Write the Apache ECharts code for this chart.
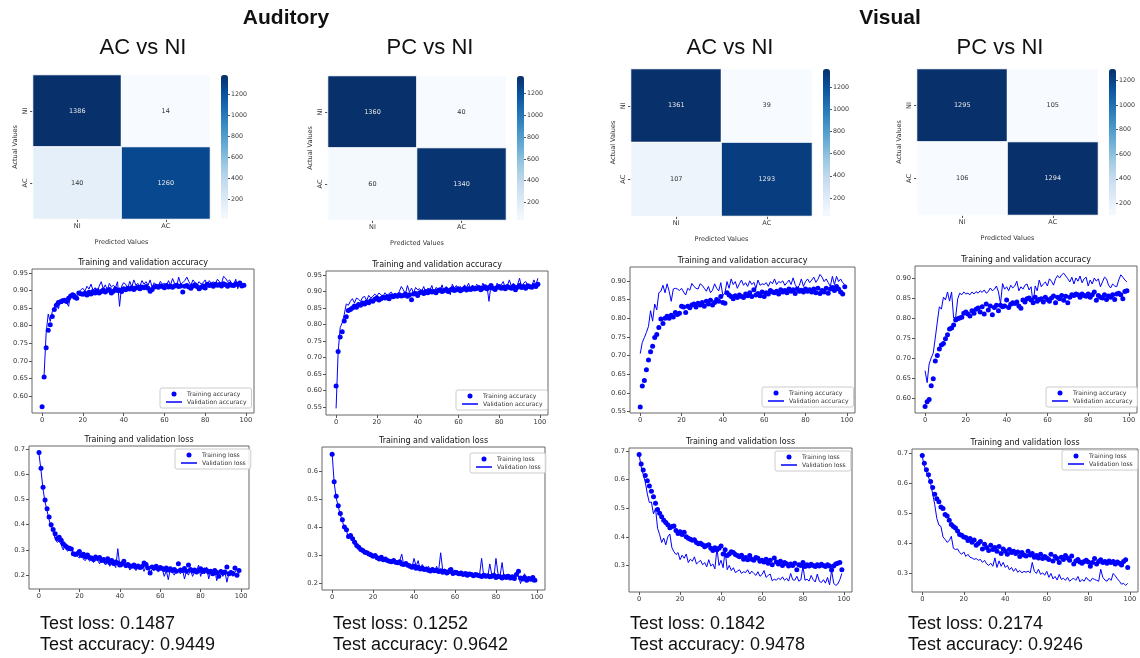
<!DOCTYPE html>
<html><head><meta charset="utf-8">
<script src="https://cdn.jsdelivr.net/npm/echarts@6/dist/echarts.min.js"></script>
<style>html,body{margin:0;padding:0;background:#fff}#c{width:1140px;height:658px}</style>
</head><body><div id="c"></div>
<script>
// ---------------- DATA ----------------
const groupTitles = ['Auditory', 'Visual'];
const panelTitles = ['AC vs NI', 'PC vs NI', 'AC vs NI', 'PC vs NI'];
const matrixLabels = ['NI', 'AC'];
const cmAudAC = [[1386, 14], [140, 1260]];
const cmAudPC = [[1360, 40], [60, 1340]];
const cmVisAC = [[1361, 39], [107, 1293]];
const cmVisPC = [[1295, 105], [106, 1294]];
const colorbarTicks = [200, 400, 600, 800, 1000, 1200];
const epochTicks = [0, 20, 40, 60, 80, 100];
const accTicks1 = [0.60, 0.65, 0.70, 0.75, 0.80, 0.85, 0.90, 0.95];
const lossTicks1 = [0.2, 0.3, 0.4, 0.5, 0.6, 0.7];
const accTicks2 = [0.55, 0.60, 0.65, 0.70, 0.75, 0.80, 0.85, 0.90, 0.95];
const lossTicks2 = [0.2, 0.3, 0.4, 0.5, 0.6];
const accTicks3 = [0.55, 0.60, 0.65, 0.70, 0.75, 0.80, 0.85, 0.90];
const lossTicks3 = [0.3, 0.4, 0.5, 0.6, 0.7];
const accTicks4 = [0.60, 0.65, 0.70, 0.75, 0.80, 0.85, 0.90];
const lossTicks4 = [0.3, 0.4, 0.5, 0.6, 0.7];
const testLoss = [0.1487, 0.1252, 0.1842, 0.2174];
const testAcc = [0.9449, 0.9642, 0.9478, 0.9246];

// Auditory AC vs NI
const trainAcc1 = [
0.570,0.654,0.737,0.787,0.803,0.826,0.846,0.858,0.866,0.868,
0.871,0.872,0.869,0.878,0.884,0.888,0.881,0.878,0.893,0.891,
0.889,0.892,0.887,0.895,0.890,0.897,0.893,0.899,0.893,0.897,
0.901,0.896,0.900,0.903,0.893,0.898,0.904,0.900,0.901,0.897,
0.905,0.902,0.906,0.904,0.908,0.903,0.907,0.909,0.905,0.910,
0.908,0.911,0.906,0.898,0.903,0.910,0.912,0.909,0.913,0.911,
0.908,0.914,0.910,0.912,0.909,0.913,0.915,0.911,0.913,0.896,
0.912,0.914,0.910,0.906,0.913,0.916,0.911,0.905,0.909,0.913,
0.907,0.918,0.914,0.916,0.912,0.918,0.915,0.917,0.913,0.919,
0.916,0.912,0.918,0.915,0.914,0.919,0.917,0.921,0.913,0.915];
const valAcc1 = [
0.650,0.662,0.780,0.833,0.812,0.840,0.852,0.866,0.848,0.872,
0.862,0.878,0.866,0.855,0.888,0.882,0.892,0.884,0.895,0.902,
0.906,0.898,0.912,0.904,0.918,0.900,0.908,0.894,0.912,0.925,
0.905,0.916,0.902,0.920,0.910,0.915,0.908,0.925,0.855,0.912,
0.922,0.918,0.905,0.926,0.910,0.930,0.915,0.920,0.912,0.928,
0.918,0.925,0.915,0.930,0.908,0.922,0.916,0.912,0.926,0.918,
0.920,0.912,0.928,0.915,0.934,0.920,0.910,0.938,0.918,0.922,
0.928,0.938,0.925,0.915,0.930,0.922,0.915,0.925,0.918,0.922,
0.930,0.915,0.928,0.920,0.925,0.918,0.932,0.925,0.920,0.940,
0.935,0.925,0.930,0.920,0.915,0.932,0.905,0.925,0.912,0.915];
const trainLoss1 = [
0.686,0.624,0.548,0.498,0.463,0.430,0.400,0.381,0.364,0.345,
0.350,0.338,0.324,0.316,0.310,0.307,0.304,0.285,0.282,0.286,
0.294,0.278,0.283,0.273,0.280,0.270,0.268,0.262,0.272,0.266,
0.270,0.258,0.262,0.255,0.265,0.250,0.258,0.246,0.252,0.248,
0.240,0.245,0.255,0.238,0.242,0.236,0.235,0.240,0.232,0.236,
0.230,0.234,0.248,0.242,0.228,0.208,0.232,0.228,0.235,0.225,
0.230,0.226,0.222,0.228,0.220,0.225,0.218,0.222,0.215,0.245,
0.220,0.218,0.226,0.215,0.240,0.222,0.216,0.220,0.212,0.218,
0.225,0.214,0.220,0.218,0.212,0.215,0.205,0.218,0.210,0.196,
0.214,0.208,0.212,0.232,0.205,0.210,0.206,0.228,0.200,0.218];
const valLoss1 = [
0.680,0.615,0.540,0.490,0.455,0.420,0.390,0.370,0.345,0.330,
0.335,0.320,0.300,0.318,0.295,0.300,0.298,0.290,0.280,0.275,
0.268,0.285,0.262,0.258,0.272,0.255,0.262,0.250,0.268,0.258,
0.245,0.262,0.250,0.240,0.255,0.235,0.248,0.242,0.230,0.305,
0.238,0.232,0.248,0.228,0.240,0.220,0.235,0.228,0.218,0.240,
0.225,0.232,0.215,0.238,0.228,0.210,0.222,0.218,0.228,0.212,
0.220,0.225,0.195,0.218,0.182,0.225,0.210,0.200,0.222,0.215,
0.205,0.225,0.185,0.215,0.200,0.222,0.195,0.212,0.218,0.240,
0.195,0.222,0.205,0.232,0.185,0.215,0.200,0.220,0.178,0.210,
0.222,0.195,0.215,0.172,0.208,0.218,0.195,0.212,0.225,0.205];

// Auditory PC vs NI
const trainAcc2 = [
0.613,0.718,0.762,0.778,0.810,0.823,0.842,0.845,0.850,0.856,
0.852,0.860,0.858,0.865,0.862,0.868,0.866,0.872,0.870,0.876,
0.880,0.874,0.878,0.882,0.880,0.884,0.878,0.886,0.884,0.888,
0.885,0.890,0.886,0.888,0.892,0.885,0.890,0.875,0.892,0.894,
0.888,0.896,0.898,0.894,0.900,0.896,0.902,0.898,0.900,0.896,
0.902,0.905,0.900,0.903,0.906,0.900,0.904,0.908,0.903,0.905,
0.908,0.902,0.906,0.910,0.904,0.908,0.906,0.911,0.907,0.909,
0.912,0.905,0.910,0.914,0.908,0.912,0.918,0.910,0.906,0.912,
0.915,0.910,0.913,0.908,0.915,0.912,0.910,0.916,0.905,0.913,
0.918,0.912,0.915,0.910,0.917,0.914,0.913,0.918,0.915,0.922];
const valAcc2 = [
0.545,0.715,0.790,0.805,0.830,0.862,0.858,0.870,0.878,0.865,
0.880,0.876,0.870,0.882,0.885,0.872,0.888,0.880,0.885,0.892,
0.886,0.895,0.890,0.884,0.896,0.888,0.893,0.898,0.890,0.895,
0.888,0.900,0.915,0.905,0.892,0.918,0.898,0.910,0.895,0.912,
0.905,0.908,0.900,0.915,0.895,0.910,0.905,0.918,0.892,0.912,
0.908,0.903,0.920,0.895,0.915,0.907,0.890,0.922,0.910,0.918,
0.905,0.915,0.900,0.920,0.912,0.925,0.905,0.918,0.910,0.922,
0.915,0.908,0.925,0.912,0.918,0.870,0.920,0.915,0.905,0.925,
0.912,0.920,0.930,0.910,0.918,0.935,0.915,0.925,0.908,0.920,
0.940,0.912,0.925,0.930,0.918,0.922,0.915,0.935,0.920,0.940];
const trainLoss2 = [
0.662,0.564,0.512,0.478,0.450,0.428,0.402,0.392,0.368,0.372,
0.360,0.348,0.336,0.330,0.322,0.318,0.312,0.310,0.306,0.302,
0.298,0.300,0.292,0.288,0.294,0.285,0.288,0.282,0.280,0.278,
0.282,0.276,0.274,0.278,0.270,0.268,0.272,0.265,0.262,0.258,
0.262,0.255,0.258,0.252,0.256,0.250,0.252,0.248,0.245,0.250,
0.246,0.248,0.243,0.246,0.240,0.244,0.238,0.242,0.250,0.236,
0.240,0.238,0.235,0.238,0.232,0.236,0.230,0.234,0.232,0.228,
0.232,0.230,0.228,0.225,0.230,0.226,0.228,0.224,0.226,0.230,
0.222,0.226,0.224,0.220,0.225,0.222,0.226,0.220,0.224,0.218,
0.232,0.244,0.220,0.216,0.222,0.212,0.218,0.215,0.222,0.212];
const valLoss2 = [
0.665,0.560,0.505,0.475,0.445,0.425,0.395,0.390,0.360,0.375,
0.350,0.342,0.330,0.335,0.318,0.312,0.318,0.305,0.300,0.310,
0.295,0.302,0.285,0.292,0.288,0.280,0.292,0.278,0.285,0.275,
0.280,0.272,0.268,0.282,0.305,0.265,0.270,0.260,0.272,0.258,
0.290,0.262,0.282,0.250,0.268,0.255,0.245,0.262,0.250,0.258,
0.240,0.262,0.245,0.310,0.248,0.252,0.238,0.255,0.245,0.240,
0.235,0.248,0.232,0.240,0.236,0.230,0.242,0.228,0.235,0.230,
0.225,0.238,0.232,0.290,0.228,0.235,0.225,0.270,0.230,0.222,
0.290,0.235,0.228,0.275,0.220,0.232,0.225,0.230,0.222,0.215,
0.235,0.228,0.200,0.222,0.235,0.210,0.225,0.215,0.205,0.215];

// Visual AC vs NI
const trainAcc3 = [
0.562,0.618,0.633,0.662,0.688,0.710,0.725,0.748,0.756,0.775,
0.798,0.786,0.800,0.805,0.800,0.808,0.803,0.815,0.810,0.813,
0.832,0.830,0.815,0.832,0.828,0.835,0.838,0.830,0.840,0.835,
0.842,0.832,0.845,0.838,0.848,0.835,0.842,0.850,0.845,0.858,
0.842,0.840,0.868,0.862,0.858,0.852,0.860,0.855,0.862,0.858,
0.855,0.865,0.860,0.868,0.858,0.876,0.862,0.866,0.860,0.870,
0.858,0.868,0.865,0.874,0.870,0.868,0.872,0.865,0.876,0.870,
0.874,0.868,0.878,0.872,0.876,0.866,0.878,0.872,0.875,0.870,
0.878,0.872,0.876,0.870,0.878,0.868,0.880,0.866,0.874,0.870,
0.880,0.867,0.878,0.882,0.874,0.885,0.878,0.870,0.865,0.884];
const valAcc3 = [
0.705,0.735,0.748,0.762,0.778,0.820,0.792,0.838,0.822,0.868,
0.872,0.888,0.868,0.892,0.872,0.845,0.878,0.880,0.878,0.874,
0.880,0.870,0.862,0.880,0.875,0.893,0.885,0.880,0.878,0.892,
0.888,0.880,0.872,0.885,0.868,0.875,0.892,0.880,0.873,0.895,
0.860,0.868,0.898,0.880,0.905,0.890,0.898,0.880,0.892,0.902,
0.888,0.895,0.885,0.900,0.890,0.896,0.880,0.902,0.888,0.892,
0.890,0.895,0.885,0.898,0.892,0.905,0.890,0.898,0.895,0.900,
0.888,0.895,0.902,0.890,0.908,0.890,0.880,0.888,0.905,0.885,
0.898,0.905,0.895,0.902,0.910,0.896,0.904,0.917,0.910,0.898,
0.905,0.895,0.885,0.912,0.890,0.912,0.898,0.905,0.895,0.890];
const trainLoss3 = [
0.688,0.655,0.634,0.615,0.596,0.578,0.560,0.540,0.518,0.496,
0.483,0.470,0.458,0.450,0.442,0.432,0.436,0.438,0.422,0.412,
0.418,0.408,0.416,0.400,0.395,0.392,0.388,0.390,0.380,0.376,
0.378,0.372,0.365,0.370,0.372,0.360,0.352,0.362,0.355,0.360,
0.368,0.340,0.355,0.335,0.340,0.348,0.345,0.338,0.335,0.330,
0.336,0.322,0.328,0.320,0.335,0.322,0.318,0.328,0.325,0.315,
0.318,0.312,0.322,0.308,0.318,0.302,0.326,0.312,0.305,0.315,
0.300,0.310,0.306,0.298,0.305,0.300,0.308,0.285,0.302,0.300,
0.310,0.296,0.302,0.298,0.304,0.300,0.296,0.302,0.298,0.304,
0.300,0.296,0.302,0.298,0.284,0.298,0.305,0.308,0.310,0.285];
const valLoss3 = [
0.688,0.645,0.618,0.592,0.550,0.520,0.522,0.480,0.500,0.430,
0.408,0.380,0.396,0.372,0.400,0.410,0.362,0.348,0.338,0.345,
0.320,0.336,0.325,0.340,0.310,0.322,0.315,0.330,0.305,0.312,
0.318,0.302,0.310,0.295,0.320,0.298,0.305,0.288,0.360,0.300,
0.318,0.292,0.352,0.285,0.300,0.282,0.292,0.275,0.280,0.285,
0.272,0.278,0.275,0.285,0.270,0.280,0.272,0.265,0.278,0.262,
0.268,0.282,0.258,0.265,0.270,0.246,0.252,0.248,0.256,0.250,
0.260,0.248,0.255,0.245,0.272,0.250,0.248,0.262,0.245,0.250,
0.298,0.248,0.252,0.245,0.265,0.250,0.242,0.270,0.245,0.240,
0.250,0.238,0.258,0.232,0.282,0.238,0.230,0.235,0.250,0.272];

// Visual PC vs NI
const trainAcc4 = [
0.578,0.590,0.596,0.630,0.648,0.692,0.706,0.722,0.732,0.736,
0.748,0.758,0.772,0.775,0.782,0.795,0.798,0.800,0.802,0.812,
0.815,0.810,0.805,0.818,0.812,0.822,0.825,0.815,0.828,0.810,
0.835,0.820,0.830,0.808,0.826,0.832,0.818,0.832,0.828,0.830,
0.845,0.826,0.834,0.838,0.836,0.840,0.830,0.824,0.845,0.840,
0.848,0.850,0.845,0.838,0.852,0.842,0.846,0.848,0.840,0.852,
0.846,0.842,0.850,0.855,0.838,0.852,0.848,0.856,0.844,0.854,
0.838,0.852,0.858,0.856,0.860,0.858,0.852,0.860,0.856,0.854,
0.860,0.852,0.858,0.865,0.844,0.856,0.852,0.850,0.858,0.846,
0.855,0.852,0.858,0.846,0.860,0.862,0.858,0.848,0.866,0.868];
const valAcc4 = [
0.668,0.638,0.685,0.700,0.712,0.750,0.790,0.828,0.822,0.852,
0.845,0.865,0.842,0.865,0.800,0.802,0.848,0.862,0.858,0.865,
0.860,0.862,0.858,0.865,0.860,0.866,0.862,0.868,0.864,0.870,
0.862,0.866,0.875,0.868,0.872,0.880,0.865,0.835,0.886,0.872,
0.878,0.868,0.882,0.875,0.880,0.892,0.868,0.878,0.872,0.882,
0.885,0.870,0.878,0.835,0.880,0.868,0.895,0.878,0.885,0.890,
0.880,0.898,0.892,0.882,0.898,0.906,0.900,0.908,0.912,0.905,
0.898,0.890,0.902,0.885,0.900,0.892,0.905,0.888,0.898,0.902,
0.880,0.895,0.885,0.900,0.892,0.898,0.878,0.890,0.902,0.898,
0.882,0.875,0.885,0.880,0.878,0.895,0.908,0.902,0.895,0.890];
const trainLoss4 = [
0.692,0.666,0.645,0.628,0.605,0.585,0.563,0.548,0.538,0.520,
0.515,0.495,0.490,0.476,0.462,0.455,0.450,0.440,0.428,0.426,
0.420,0.418,0.408,0.415,0.402,0.410,0.392,0.398,0.405,0.380,
0.396,0.385,0.375,0.392,0.378,0.385,0.372,0.388,0.365,0.380,
0.372,0.362,0.378,0.368,0.372,0.365,0.370,0.355,0.368,0.360,
0.356,0.372,0.360,0.365,0.352,0.358,0.350,0.362,0.348,0.355,
0.350,0.345,0.362,0.340,0.355,0.348,0.335,0.352,0.345,0.358,
0.350,0.342,0.356,0.330,0.340,0.345,0.336,0.332,0.338,0.342,
0.336,0.322,0.335,0.348,0.330,0.338,0.344,0.335,0.338,0.332,
0.340,0.335,0.338,0.330,0.336,0.332,0.326,0.338,0.344,0.318];
const valLoss4 = [
0.688,0.658,0.636,0.620,0.600,0.565,0.528,0.482,0.460,0.455,
0.420,0.412,0.402,0.408,0.422,0.382,0.378,0.380,0.368,0.362,
0.370,0.355,0.362,0.352,0.350,0.345,0.348,0.342,0.345,0.335,
0.342,0.330,0.325,0.332,0.322,0.350,0.318,0.340,0.322,0.335,
0.318,0.325,0.310,0.318,0.305,0.315,0.302,0.308,0.300,0.305,
0.302,0.306,0.300,0.335,0.305,0.298,0.312,0.295,0.300,0.292,
0.305,0.285,0.298,0.280,0.288,0.276,0.295,0.278,0.282,0.275,
0.285,0.272,0.278,0.282,0.275,0.288,0.270,0.278,0.272,0.285,
0.276,0.272,0.282,0.278,0.275,0.272,0.312,0.285,0.276,0.272,
0.282,0.275,0.298,0.290,0.280,0.272,0.262,0.265,0.258,0.265];

// ---------------- LAYOUT / STYLE ----------------
const panels = [
  {cm: cmAudAC, tA: trainAcc1, vA: valAcc1, tL: trainLoss1, vL: valLoss1, aT: accTicks1, lT: lossTicks1},
  {cm: cmAudPC, tA: trainAcc2, vA: valAcc2, tL: trainLoss2, vL: valLoss2, aT: accTicks2, lT: lossTicks2},
  {cm: cmVisAC, tA: trainAcc3, vA: valAcc3, tL: trainLoss3, vL: valLoss3, aT: accTicks3, lT: lossTicks3},
  {cm: cmVisPC, tA: trainAcc4, vA: valAcc4, tL: trainLoss4, vL: valLoss4, aT: accTicks4, lT: lossTicks4}
];
const layout = [
  {cx: 143, heat: {l: 33, t: 75, w: 177, h: 144}, cbL: 221,
   acc: {l: 32, t: 269, w: 222, h: 144, min: 0.552, max: 0.961},
   loss: {l: 29, t: 446, w: 220, h: 143, min: 0.145, max: 0.712},
   accLeg: {l: 160, t: 388}, lossLeg: {l: 175, t: 449}, textX: 40},
  {cx: 430, heat: {l: 328, t: 76, w: 178, h: 144}, cbL: 517,
   acc: {l: 326, t: 271, w: 222, h: 144, min: 0.525, max: 0.962},
   loss: {l: 322, t: 447, w: 223, h: 143, min: 0.177, max: 0.688},
   accLeg: {l: 456, t: 390}, lossLeg: {l: 470, t: 453}, textX: 333},
  {cx: 730, heat: {l: 631, t: 69, w: 181, h: 147}, cbL: 823,
   acc: {l: 630, t: 267, w: 225, h: 146, min: 0.546, max: 0.937},
   loss: {l: 629, t: 448, w: 223, h: 144, min: 0.207, max: 0.711},
   accLeg: {l: 762, t: 387}, lossLeg: {l: 775, t: 451}, textX: 630},
  {cx: 1000, heat: {l: 917, t: 69, w: 181, h: 146}, cbL: 1109,
   acc: {l: 915, t: 266, w: 222, h: 147, min: 0.562, max: 0.930},
   loss: {l: 912, t: 449, w: 226, h: 143, min: 0.236, max: 0.714},
   accLeg: {l: 1046, t: 387}, lossLeg: {l: 1062, t: 450}, textX: 908}
];
const blues = ['#f7fbff','#deebf7','#c6dbef','#9ecae1','#6baed6','#4292c6','#2171b5','#08519c','#08306b'];
const FONT = 'DejaVu Sans';
const AX = '#333';
const BLUE = '#0000ff';
const LINE_ICON = 'path://M0,0L0.01,0M0,1.8L16,1.8L16,3.2L0,3.2ZM0,5L0.01,5';

const grid = [], xAxis = [], yAxis = [], series = [], visualMap = [], legend = [], graphic = [];
function addGrid(g) { grid.push(g); return grid.length - 1; }
function txt(x, y, text, font, align) {
  graphic.push({type: 'text', x: x, y: y, silent: true,
    style: {text: text, font: font, fill: '#111', textAlign: align || 'center', textVerticalAlign: 'middle'}});
}

function addCurve(box, tr, va, names, ticks, dec, leg, title) {
  const gi = addGrid({left: box.l, top: box.t, width: box.w, height: box.h, show: true, borderColor: '#666', borderWidth: 1});
  xAxis.push({gridIndex: gi, type: 'value', min: -4.95, max: 103.95,
    axisLine: {show: false, onZero: false}, splitLine: {show: false},
    axisTick: {show: true, length: 3, customValues: epochTicks, lineStyle: {color: '#555'}},
    axisLabel: {customValues: epochTicks, fontSize: 6.7, color: AX, fontFamily: FONT, margin: 4}});
  yAxis.push({gridIndex: gi, type: 'value', min: box.min, max: box.max,
    axisLine: {show: false, onZero: false}, splitLine: {show: false},
    axisTick: {show: true, length: 3, customValues: ticks, lineStyle: {color: '#555'}},
    axisLabel: {customValues: ticks, fontSize: 6.7, color: AX, fontFamily: FONT, margin: 4,
      formatter: v => Number(v).toFixed(dec)}});
  series.push({type: 'scatter', name: names[0], xAxisIndex: gi, yAxisIndex: gi, silent: true,
    data: tr.map((v, i) => [i, v]), symbolSize: 5, itemStyle: {color: BLUE, opacity: 1}});
  series.push({type: 'line', name: names[1], xAxisIndex: gi, yAxisIndex: gi, silent: true,
    data: va.map((v, i) => [i, v]), symbol: 'none', lineStyle: {width: 1, color: BLUE}, itemStyle: {color: BLUE}});
  legend.push({left: leg.l, top: leg.t, orient: 'vertical', selectedMode: false,
    data: [{name: names[0], icon: 'circle', itemStyle: {borderWidth: 0}},
           {name: names[1], icon: LINE_ICON, itemStyle: {borderWidth: 0}}],
    itemWidth: 16, itemHeight: 5, itemGap: 2, padding: [3, 5, 3, 6],
    borderColor: '#ccc', borderWidth: 1, borderRadius: 2, backgroundColor: 'rgba(255,255,255,0.85)',
    textStyle: {fontSize: 6.1, color: AX, fontFamily: FONT}});
  txt(box.l + box.w / 2, box.t - 6, title, '8px "DejaVu Sans"');
}

panels.forEach((p, k) => {
  const lay = layout[k];
  const vals = p.cm.flat();
  const vmin = Math.min(...vals), vmax = Math.max(...vals);
  // heatmap
  const gi = addGrid({left: lay.heat.l, top: lay.heat.t, width: lay.heat.w, height: lay.heat.h});
  xAxis.push({gridIndex: gi, type: 'category', data: matrixLabels,
    name: 'Predicted Values', nameLocation: 'middle', nameGap: 20,
    nameTextStyle: {fontSize: 6.5, color: AX, fontFamily: FONT},
    axisLine: {show: false}, splitLine: {show: false},
    axisTick: {show: true, alignWithLabel: true, length: 3, lineStyle: {color: '#555'}},
    axisLabel: {fontSize: 6.5, color: AX, fontFamily: FONT, margin: 4}});
  yAxis.push({gridIndex: gi, type: 'category', data: matrixLabels, inverse: true,
    name: 'Actual Values', nameLocation: 'middle', nameGap: 14, nameRotate: 90,
    nameTextStyle: {fontSize: 6.5, color: AX, fontFamily: FONT},
    axisLine: {show: false}, splitLine: {show: false},
    axisTick: {show: true, alignWithLabel: true, length: 3, lineStyle: {color: '#555'}},
    axisLabel: {fontSize: 6.5, color: AX, fontFamily: FONT, margin: 4, rotate: 90}});
  const data = [];
  p.cm.forEach((row, r) => row.forEach((v, c) => {
    const dark = (v - vmin) / (vmax - vmin) > 0.5;
    data.push({value: [c, r, v], label: {color: dark ? '#e8e8e8' : '#333'}});
  }));
  series.push({type: 'heatmap', xAxisIndex: gi, yAxisIndex: gi, data: data, silent: true,
    label: {show: true, fontSize: 6.5, fontFamily: FONT},
    itemStyle: {borderColor: '#fff', borderWidth: 1}});
  visualMap.push({type: 'continuous', seriesIndex: series.length - 1, min: vmin, max: vmax,
    inRange: {color: blues}, calculable: false, orient: 'vertical', left: lay.cbL, top: lay.heat.t,
    itemWidth: 7, itemHeight: lay.heat.h, padding: 0, text: null, hoverLink: false});
  // colorbar scale
  const ci = addGrid({left: lay.cbL, top: lay.heat.t, width: 7, height: lay.heat.h});
  xAxis.push({gridIndex: ci, type: 'value', show: false, min: 0, max: 1});
  yAxis.push({gridIndex: ci, type: 'value', min: vmin, max: vmax, position: 'right',
    axisLine: {show: false, onZero: false}, splitLine: {show: false},
    axisTick: {show: true, length: 2, customValues: colorbarTicks, lineStyle: {color: '#555'}},
    axisLabel: {customValues: colorbarTicks, fontSize: 6.3, color: AX, fontFamily: FONT, margin: 3,
      formatter: v => String(v)}});
  // curves
  addCurve(lay.acc, p.tA, p.vA, ['Training accuracy', 'Validation accuracy'], p.aT, 2, lay.accLeg, 'Training and validation accuracy');
  addCurve(lay.loss, p.tL, p.vL, ['Training loss', 'Validation loss'], p.lT, 1, lay.lossLeg, 'Training and validation loss');
  // titles & test results
  txt(lay.cx, 48, panelTitles[k], '22px "Liberation Sans"');
  txt(lay.textX, 624, 'Test loss: ' + testLoss[k].toFixed(4), '18px "Liberation Sans"', 'left');
  txt(lay.textX, 645, 'Test accuracy: ' + testAcc[k].toFixed(4), '18px "Liberation Sans"', 'left');
});
txt(286, 18, groupTitles[0], 'bold 21px "Liberation Sans"');
txt(890, 18, groupTitles[1], 'bold 21px "Liberation Sans"');

const chart = echarts.init(document.getElementById('c'), null, {renderer: 'canvas'});
chart.setOption({
  animation: false, backgroundColor: '#fff',
  grid, xAxis, yAxis, series, visualMap, legend, graphic
});
</script></body></html>
